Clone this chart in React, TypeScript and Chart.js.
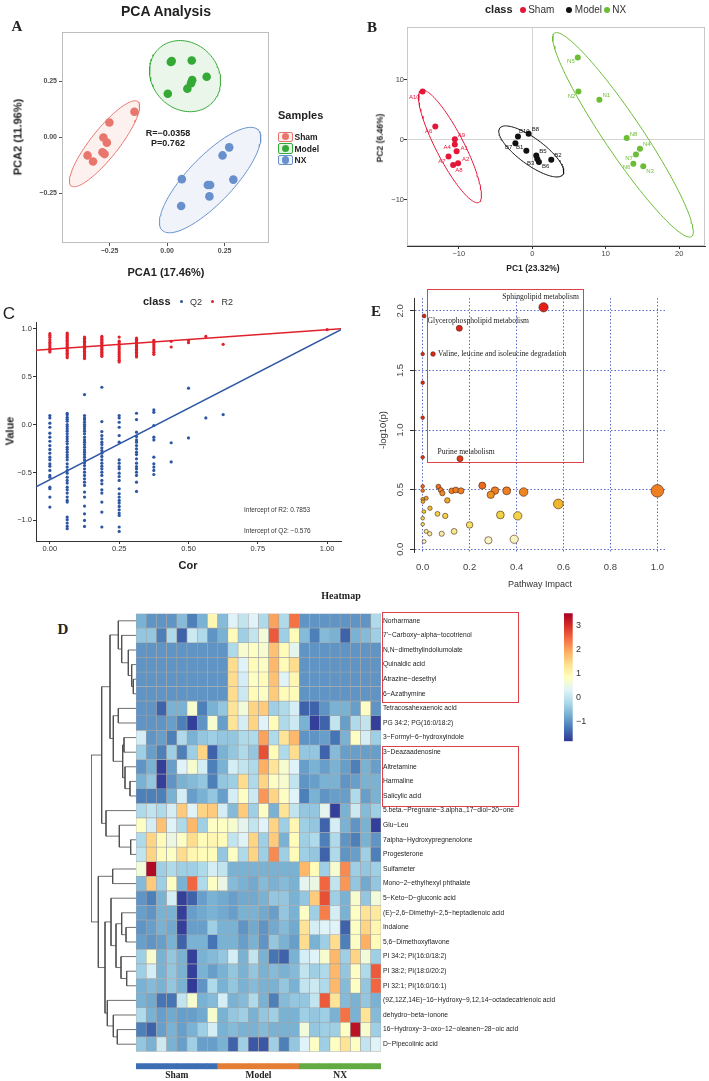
import React, { useEffect, useRef } from "react";
import { Chart, registerables } from "chart.js";

Chart.register(...registerables);

const SANS = "'Liberation Sans', Arial, Helvetica, sans-serif";
const SERIF = "'Liberation Serif', 'Times New Roman', Times, serif";
const NARROW = "'Liberation Sans Narrow', 'Arial Narrow', 'Liberation Sans', Arial, sans-serif";

Chart.defaults.font.family = SANS;
Chart.defaults.color = "#333";

/* ---------------- Panel A : PCA Analysis ---------------- */
const aClassNames = ["Sham", "Model", "NX"];
const aColors = ["#E8766D", "#34A935", "#6890CC"];
const aSham = [[-0.142, 0.113], [-0.251, 0.065], [-0.277, -0.002], [-0.262, -0.025], [-0.346, -0.082], [-0.322, -0.109], [-0.281, -0.068], [-0.272, -0.076]];
const aModel = [[0.016, 0.335], [0.02, 0.339], [0.107, 0.342], [0.172, 0.269], [0.109, 0.254], [0.104, 0.24], [0.088, 0.216], [0.003, 0.193]];
const aNX = [[0.27, -0.046], [0.241, -0.082], [0.064, -0.188], [0.177, -0.214], [0.187, -0.214], [0.288, -0.19], [0.184, -0.265], [0.061, -0.308]];
const aTicks = [-0.25, 0, 0.25];
const aStatsText = ["R=\u22120.0358", "P=0.762"];
// ellipse: centre x, centre y, semi-axis 1 (dx, dy), semi-axis 2 (dx, dy)
const aEllipses = [
  [-0.272, -0.03, 0.145, 0.188, 0.0478, -0.0388],
  [0.078, 0.272, 0.117, -0.12, 0.101, 0.104],
  [0.187, -0.192, 0.208, 0.2246, 0.0726, -0.0705],
];

/* ---------------- Panel B : PCA with sample ids ---------------- */
const bColors = ["#E3173A", "#111111", "#6BBD35"];
const bSham = [[-14.93, 8.06], [-13.2, 2.2], [-10.54, 0.1], [-10.54, -0.8], [-10.3, -1.9], [-11.4, -2.8], [-10.1, -3.9], [-10.77, -4.2]];
const bShamIds = ["A10", "A6", "A9", "A4", "A1", "A7", "A2", "A8"];
const bModel = [[-1.95, 0.56], [-0.5, 1.0], [-2.3, -0.56], [-0.81, -1.83], [0.54, -2.6], [0.68, -3.2], [0.9, -3.7], [2.58, -3.33]];
const bModelIds = ["B10", "B8", "B7", "B1", "B5", "B3", "B6", "B2"];
const bNX = [[6.19, 13.7], [6.28, 8.06], [9.13, 6.67], [12.84, 0.28], [14.65, -1.5], [14.1, -2.44], [13.75, -4.0], [15.1, -4.4]];
const bNXIds = ["N5", "N2", "N1", "N8", "N4", "N7", "N6", "N3"];
const bXTicks = [-10, 0, 10, 20];
const bYTicks = [-10, 0, 10];
const bEllipses = [
  [-11.2, -1.1, 3.93, -9.33, 1.69, 1.07],
  [-0.14, -1.94, 4.3, -3.88, -1.05, -1.75],
  [12.34, 0.83, 9.32, -16.95, 2.14, 1.77],
];
// label placement (pixel offsets) kept apart from the data
const bShamLabelPos = [[-3, 6, "right"], [-3, 5, "right"], [3, -4, "left"], [-4, 3, "right"], [4, -3, "left"], [-3, 5, "right"], [4, -4, "left"], [2, 5, "left"]];
const bModelLabelPos = [[1, -5, "left"], [3, -4, "left"], [-3, 4, "right"], [-3, -3, "right"], [3, -4, "left"], [-3, 4, "right"], [3, 4, "left"], [3, -4, "left"]];
const bNXLabelPos = [[-3, 4, "right"], [-3, 5, "right"], [3, -4, "left"], [3, -4, "left"], [3, -4, "left"], [-3, 4, "right"], [-3, 4, "right"], [3, 5, "left"]];

/* ---------------- Panel C : permutation test ---------------- */
const cCor = [0, 0.0625, 0.125, 0.1875, 0.25, 0.3125, 0.375, 0.4375, 0.5, 0.5625, 0.625, 1.0];
const cQ2 = [
  [0.094, 0.069, 0.014, -0.028, -0.09, -0.132, -0.174, -0.219, -0.26, -0.299, -0.34, -0.368, -0.41, -0.434, -0.479, -0.531, -0.549, -0.653, -0.67, -0.757, -0.861],
  [0.118, 0.101, 0.076, 0.056, 0.035, 0, -0.021, -0.045, -0.069, -0.097, -0.125, -0.149, -0.174, -0.201, -0.236, -0.26, -0.288, -0.316, -0.34, -0.368, -0.41, -0.444, -0.479, -0.507, -0.549, -0.583, -0.611, -0.653, -0.681, -0.715, -0.757, -0.792, -0.809, -0.965, -0.993, -1.028, -1.063, -1.087],
  [0.313, 0.094, 0.069, 0.049, 0.024, 0, -0.021, -0.045, -0.069, -0.097, -0.132, -0.16, -0.184, -0.208, -0.236, -0.264, -0.288, -0.313, -0.34, -0.368, -0.399, -0.427, -0.462, -0.497, -0.531, -0.566, -0.601, -0.635, -0.705, -0.757, -0.851, -0.931, -1.0, -1.063],
  [0.389, 0.031, -0.073, -0.115, -0.149, -0.184, -0.208, -0.243, -0.271, -0.299, -0.333, -0.368, -0.403, -0.434, -0.462, -0.497, -0.531, -0.583, -0.618, -0.681, -0.715, -0.809, -0.913, -1.069],
  [0.094, 0.069, 0.024, -0.028, -0.115, -0.184, -0.368, -0.403, -0.438, -0.462, -0.507, -0.542, -0.583, -0.67, -0.722, -0.757, -0.792, -0.819, -0.854, -0.889, -0.924, -0.948, -1.069, -1.115],
  [0.118, 0.052, -0.08, -0.125, -0.16, -0.184, -0.219, -0.253, -0.288, -0.313, -0.358, -0.403, -0.438, -0.462, -0.497, -0.531, -0.601, -0.698],
  [0.153, 0.128, -0.01, -0.132, -0.16, -0.34, -0.41, -0.444, -0.479, -0.521],
  [-0.19, -0.39],
  [0.38, -0.14],
  [0.069],
  [0.104],
  [],
];
const cR2 = [
  [0.948, 0.93, 0.91, 0.885, 0.86, 0.84, 0.82, 0.8, 0.785, 0.77, 0.757],
  [0.955, 0.94, 0.925, 0.91, 0.895, 0.88, 0.865, 0.85, 0.835, 0.82, 0.805, 0.79, 0.775, 0.76, 0.745, 0.73, 0.715, 0.698],
  [0.913, 0.9, 0.885, 0.87, 0.855, 0.84, 0.825, 0.81, 0.795, 0.78, 0.765, 0.75, 0.735, 0.72, 0.705, 0.688],
  [0.92, 0.905, 0.89, 0.875, 0.86, 0.845, 0.83, 0.815, 0.8, 0.785, 0.77, 0.755, 0.74, 0.725, 0.712],
  [0.913, 0.87, 0.85, 0.83, 0.81, 0.79, 0.77, 0.75, 0.73, 0.71, 0.69, 0.67, 0.653],
  [0.903, 0.89, 0.875, 0.86, 0.845, 0.83, 0.815, 0.8, 0.785, 0.77, 0.755, 0.74, 0.72, 0.705],
  [0.878, 0.86, 0.84, 0.82, 0.8, 0.78, 0.755, 0.733],
  [0.868, 0.809],
  [0.878, 0.854],
  [0.92],
  [0.837],
  [0.99],
];
const cR2Line = [[-0.05, 0.775], [1.05, 1.0]];
const cQ2Line = [[-0.05, -0.65], [1.05, 0.99]];
const cXTicks = [0, 0.25, 0.5, 0.75, 1.0];
const cYTicks = [-1.0, -0.5, 0, 0.5, 1.0];
const cColors = { Q2: "#2D56A3", R2: "#E0202A" };
const cInterceptText = ["Intercept of R2: 0.7853", "Intercept of Q2: \u22120.576"];

/* ---------------- Panel E : pathway analysis ---------------- */
// [pathway impact, -log10(p)]
const ePoints = [
  [0.515, 2.03], [0.006, 1.957], [0.156, 1.854], [0, 1.638], [0.044, 1.638], [0, 1.398], [0, 1.104], [0, 0.772],
  [0.159, 0.76], [0, 0.528], [0, 0.492], [0.067, 0.525], [0.077, 0.497], [0.084, 0.47], [0.124, 0.49], [0.141, 0.497],
  [0.163, 0.49], [0.254, 0.534], [0.308, 0.492], [0.29, 0.457], [0.358, 0.49], [0.43, 0.48], [1.0, 0.49], [0.578, 0.38],
  [0.015, 0.428], [0, 0.42], [0.001, 0.4], [0.105, 0.41], [0.031, 0.344], [0.005, 0.316], [0.063, 0.297], [0.096, 0.28],
  [0.331, 0.288], [0.405, 0.28], [0, 0.26], [0, 0.21], [0.2, 0.204], [0.015, 0.15], [0.03, 0.13], [0.081, 0.13],
  [0.134, 0.15], [0.28, 0.075], [0.39, 0.084], [0.006, 0.065],
];
const eLabelIndex = [0, 2, 4, 8];
const eLabelText = ["Sphingolipid metabolism", "Glycerophospholipid metabolism", "Valine, leucine and isoleucine degradation", "Purine metabolism"];
const eLabelPos = [[-3, -10, "center"], [19, -7, "center"], [5, 0, "left"], [6, -7, "center"]];
const eXTicks = [0, 0.2, 0.4, 0.6, 0.8, 1.0];
const eYTicks = [0, 0.5, 1.0, 1.5, 2.0];
const eColorStops: [number, string][] = [[0, "#FFFFF2"], [0.1, "#F7F0B8"], [0.2, "#F4E36A"], [0.3, "#F2D040"], [0.38, "#F0B52C"], [0.45, "#EF9525"], [0.5, "#EE7A22"], [0.55, "#E8601D"], [0.8, "#E23318"], [2.1, "#E21E18"]];

/* ---------------- Panel D : heatmap ---------------- */
const heatRowNames = [
  "Norharmane", "7'\u2212Carboxy\u2212alpha\u2212tocotrienol", "N,N\u2212dimethylindoliumolate", "Quinaldic acid", "Atrazine\u2212desethyl",
  "6\u2212Azathymine", "Tetracosahexaenoic acid", "PG 34:2; PG(16:0/18:2)", "3\u2212Formyl\u22126\u2212hydroxyindole", "3\u2212Deazaadenosine",
  "Altretamine", "Harmaline", "Salicylic acid", "5.beta.\u2212Pregnane\u22123.alpha.,17\u2212diol\u221220\u2212one", "Glu\u2212Leu",
  "7alpha\u2212Hydroxypregnenolone", "Progesterone", "Sulfameter", "Mono\u22122\u2212ethylhexyl phthalate", "5\u2212Keto\u2212D\u2212gluconic acid",
  "(E)\u22122,6\u2212Dimethyl\u22122,5\u2212heptadienoic acid", "Indalone", "5,6\u2212Dimethoxyflavone", "PI 34:2; PI(16:0/18:2)", "PI 38:2; PI(18:0/20:2)",
  "PI 32:1; PI(16:0/16:1)", "(9Z,12Z,14E)\u221216\u2212Hydroxy\u22129,12,14\u2212octadecatrienoic acid", "dehydro\u2212beta\u2212ionone", "16\u2212Hydroxy\u22123\u2212oxo\u221212\u2212oleanen\u221228\u2212oic acid", "D\u2212Pipecolinic acid",
];
const sampleIds = ["S1", "S2", "S3", "S4", "S5", "S6", "S7", "S8", "M1", "M2", "M3", "M4", "M5", "M6", "M7", "M8", "N1", "N2", "N3", "N4", "N5", "N6", "N7", "N8"];
const groupNames = ["Sham", "Model", "NX"];
const groupSizes = [8, 8, 8];
const groupColors = ["#3C6EB4", "#E57E35", "#62AB43"];
const heatValues = [
  [-0.7, -1.0, -1.0, -1.0, -0.6, -1.2, -0.7, 1.0, -0.6, 0.3, 0.0, 0.3, -0.2, 2.0, -0.2, 2.4, -1.0, -1.0, -1.0, -1.0, -1.0, -1.0, -1.0, -0.2],
  [-0.45, -0.45, -1.2, -0.2, -1.45, 0.1, -0.2, -1.0, -0.7, 0.9, -0.35, 0.0, 0.6, 2.6, -0.35, 0.9, -0.6, -1.2, -0.6, -0.7, -1.45, -0.7, -0.6, -0.35],
  [-1.0, -1.0, -1.0, -1.0, -1.0, -1.0, -1.0, -1.0, -1.0, -0.2, 0.7, 0.8, 0.7, 1.7, 0.9, 0.4, -1.0, -1.0, -1.0, -1.0, -1.0, -1.0, -1.0, -1.0],
  [-1.0, -1.0, -1.0, -1.0, -1.0, -1.0, -1.0, -1.0, -1.0, 1.4, 0.3, 0.9, 0.8, 1.8, 0.9, 1.4, -1.0, -1.0, -1.0, -1.0, -1.0, -1.0, -1.0, -1.0],
  [-1.0, -1.0, -1.0, -1.0, -1.0, -1.0, -1.0, -1.0, -1.0, 1.4, 0.2, 0.8, 0.9, 1.7, 0.3, 1.0, -1.0, -1.0, -1.0, -1.0, -1.0, -1.0, -1.0, -1.0],
  [-1.0, -1.0, -1.0, -1.0, -1.0, -1.0, -1.0, -1.0, -1.0, 1.4, 0.1, 0.9, 0.8, 1.6, 0.9, 0.9, -1.0, -1.0, -1.0, -1.0, -1.0, -1.0, -1.0, -1.0],
  [-1.0, -1.0, -1.45, -0.7, -0.7, 0.7, -1.2, -0.7, -0.45, 1.3, 0.6, 1.5, 1.6, -0.35, -0.2, 0.2, -1.45, -1.45, -1.0, -0.7, -0.7, -0.9, 0.8, -1.0],
  [-1.0, -1.0, -1.0, -0.9, -1.2, -1.75, -1.0, 0.7, -0.9, 1.3, 0.2, 1.5, 0.3, 0.9, -0.2, 0.1, -0.7, -1.75, -1.45, 0.0, -0.9, -0.2, 0.0, -1.75],
  [0.2, -1.0, -0.9, -1.2, -0.2, -0.7, -0.45, -0.35, -0.45, -0.45, -0.2, -0.2, 2.0, -0.2, 1.3, 1.8, -1.0, -1.0, -0.9, -1.3, -0.7, 0.8, 0.2, -0.35],
  [-0.35, -0.9, -1.2, -0.35, -1.2, -0.35, 1.5, -1.45, -0.7, -0.45, -0.2, -0.45, 2.7, 0.9, -0.2, 1.4, -0.45, -0.45, -1.45, -0.6, -0.9, -0.9, -0.9, -0.9],
  [-1.0, -0.7, -1.75, -0.9, 0.3, 0.7, 0.2, -1.2, -0.7, 0.2, 0.0, -0.2, 1.9, 1.3, 0.7, 0.3, -0.9, -0.7, -0.9, -0.7, -0.9, -1.2, -0.7, -0.9],
  [-0.7, -0.45, -1.75, -1.0, -0.7, -0.6, -0.45, -1.2, -0.45, -0.35, 1.4, -0.2, 1.5, 0.8, 0.7, 0.0, -1.0, -0.9, -0.7, -0.7, -1.0, -0.9, -0.7, -0.7],
  [-1.2, -1.2, -1.2, -0.7, 0.2, -0.9, -0.7, -0.45, -0.9, 0.2, 0.8, 0.1, 2.1, 1.5, 0.8, 0.3, -1.2, -0.7, -1.0, -0.9, -0.9, -0.2, -0.9, -0.7],
  [-0.2, 0.0, -0.2, 0.2, 1.6, 0.3, 1.5, 1.6, 0.2, -0.6, 1.6, -0.35, 0.8, -0.7, 1.3, 0.0, -0.45, -0.45, 0.4, -1.75, -0.7, 0.1, -0.6, -0.35],
  [0.8, 0.2, 1.7, 0.3, -0.2, 1.8, -0.35, 0.8, 0.8, 0.7, 0.4, 0.0, 0.3, 1.5, -0.35, 1.0, -0.35, -0.45, -1.45, 0.2, -0.7, -1.0, -0.7, -1.75],
  [-0.2, 1.5, 0.9, 0.5, 0.8, 1.4, 0.9, 1.0, 0.9, 0.0, 0.3, 1.5, -0.35, 1.6, -0.7, 0.9, -0.35, -0.2, -1.2, -0.2, -1.0, -1.2, -0.7, -1.0],
  [0.0, 1.5, 0.9, 0.8, 1.4, 1.0, 0.9, 0.9, -0.45, 0.8, -0.2, 1.5, -0.35, 2.2, -0.35, 0.9, -0.35, -0.45, -1.45, -0.2, -1.0, -0.9, -0.35, -1.2],
  [0.6, 3.4, -0.35, -0.2, -0.35, -0.35, -0.2, 0.2, 0.0, -0.7, -0.7, -0.7, -0.7, -0.7, -0.7, -0.7, 1.8, 0.9, -0.35, 0.7, 2.2, -0.35, -0.45, -0.35],
  [-0.6, 1.6, -0.35, 0.8, -0.7, 2.5, -0.2, 0.8, 0.5, -0.6, -0.7, -0.8, -0.6, -0.7, -0.6, -0.7, 0.4, 0.5, 2.5, 0.0, 2.1, -0.45, -0.8, -0.45],
  [-1.0, -1.2, -0.7, 0.2, -1.75, -1.45, -0.9, -0.7, -0.8, -0.9, -0.8, -0.8, -0.7, -0.45, -0.45, -0.7, -0.45, 1.6, 2.7, -0.35, -0.7, 0.7, -0.45, 0.6],
  [-0.9, -1.0, -0.7, -0.7, -1.75, -0.9, -0.8, -0.7, -0.8, -0.9, -0.7, -0.7, -0.8, -0.9, -0.45, -0.7, 0.8, -0.35, 2.3, 0.2, -0.7, 0.8, 1.3, 1.2],
  [-1.0, -0.9, -0.7, -0.8, -1.75, -0.9, -0.9, -0.35, -0.7, -0.7, -1.0, -0.8, -1.0, -0.8, -0.6, -0.8, 1.3, 0.2, 0.3, 0.3, -1.45, 0.8, 1.5, 1.0],
  [-0.9, -1.0, -0.9, -0.7, -1.45, -0.7, -0.7, -1.3, -0.7, -0.7, -0.9, -0.7, -1.0, -0.45, -0.7, -0.9, 1.4, -0.7, -0.35, 1.4, -1.2, 0.8, 1.9, 0.9],
  [-0.35, 0.7, -0.7, -0.45, -0.7, -1.75, -0.7, -0.6, -0.45, 0.2, -0.7, 0.0, -0.7, -1.3, -1.45, -0.7, 0.2, 0.3, 0.7, 1.8, -0.35, 1.5, 0.6, -0.35],
  [-0.35, 0.2, -0.7, -0.45, -0.7, -1.75, -0.7, -0.9, -0.7, -0.45, -0.7, -0.45, -0.7, -0.6, -0.7, -0.6, 0.0, -0.35, -0.2, 1.8, -0.45, 0.8, -0.2, 2.6],
  [-0.7, -0.6, -0.7, -0.45, -0.7, -1.8, -1.0, -0.2, -0.7, -0.45, -0.7, -0.6, -0.7, -0.7, -0.45, -0.7, 0.0, 0.1, -0.2, 1.8, -0.6, 0.8, -0.45, 2.5],
  [-0.7, -0.8, -1.3, -1.3, 0.0, 0.7, -0.7, -0.6, 0.2, -0.7, -0.6, -0.2, -0.7, -1.2, -0.6, -0.45, -0.45, 0.0, 2.6, 1.3, -0.6, -0.7, -0.45, -0.7],
  [-0.2, -0.7, -0.9, -0.8, -0.9, -0.9, -0.8, 0.7, -0.7, -0.45, -0.35, -0.7, -0.45, -0.35, -0.7, -0.7, -0.35, -0.45, -0.35, -0.7, 2.4, -0.7, 1.3, -0.6],
  [-1.2, -1.45, -0.9, -0.7, -0.9, -0.7, -0.35, 0.2, -0.7, -0.6, -0.7, -0.7, -0.6, -0.7, -0.7, -0.7, 0.6, -0.45, -0.35, -0.35, 0.8, 3.3, 0.7, -0.35],
  [-0.45, -0.7, 0.1, -0.7, -0.9, -0.35, -0.9, -0.9, -0.7, -1.45, -0.35, -1.55, -1.55, -0.35, -1.2, -0.45, 0.3, 0.8, -0.35, 0.8, 1.3, 0.8, 0.0, 0.3],
];
// row dendrogram, hclust style: negative = leaf (row -n-1), positive = earlier merge (1-based); third = height
const rowMerges = [
  [-5, -6, 2.7], [-4, 1, 4.3], [-3, 2, 7.7], [-2, 3, 14.3], [-1, 4, 17.7],
  [-7, -8, 17.7], [-9, -10, 12], [-12, -13, 6], [-11, 8, 11], [7, 9, 13.3], [6, 10, 22.7], [5, 11, 26],
  [-16, -17, 5.3], [-15, 13, 16.7], [-14, 14, 30], [12, 15, 34.3],
  [-18, -19, 23.3], [-22, -23, 10], [-21, 18, 14.3], [-25, -26, 9.3], [-24, 20, 15], [19, 21, 20], [-20, 22, 25],
  [-29, -30, 18.7], [-28, 24, 22.7], [-27, 25, 28.7], [23, 26, 31], [17, 27, 37.7], [16, 28, 45],
];
const heatPalette = ["#313695", "#4575B4", "#74ADD1", "#ABD9E9", "#E0F3F8", "#FFFFBF", "#FEE090", "#FDAE61", "#F46D43", "#D73027", "#A50026"];
const heatMin = -1.83;
const heatMax = 3.51;
const heatTicks = [-1, 0, 1, 2, 3];

/* ---------------- helpers ---------------- */
function fmt(v: number, d: number) {
  return (v < -1e-9 ? "\u2212" : "") + Math.abs(v).toFixed(d);
}
function hex(h: string) {
  return [parseInt(h.slice(1, 3), 16), parseInt(h.slice(3, 5), 16), parseInt(h.slice(5, 7), 16)];
}
function mix(a: string, b: string, t: number) {
  const A = hex(a), B = hex(b);
  const c = A.map((v, i) => Math.round(v + (B[i] - v) * t));
  return `rgb(${c[0]},${c[1]},${c[2]})`;
}
function rgba(h: string, a: number) {
  const c = hex(h);
  return `rgba(${c[0]},${c[1]},${c[2]},${a})`;
}
function heatColor(v: number) {
  const t = Math.max(0, Math.min(1, (v - heatMin) / (heatMax - heatMin))) * (heatPalette.length - 1);
  const i = Math.min(heatPalette.length - 2, Math.floor(t));
  return mix(heatPalette[i], heatPalette[i + 1], t - i);
}
function stopColor(stops: [number, string][], v: number) {
  if (v <= stops[0][0]) return stops[0][1];
  for (let i = 0; i < stops.length - 1; i++) {
    if (v <= stops[i + 1][0]) return mix(stops[i][1], stops[i + 1][1], (v - stops[i][0]) / (stops[i + 1][0] - stops[i][0]));
  }
  return stops[stops.length - 1][1];
}
function ellipsePts(p: number[]) {
  const [cx, cy, ux, uy, vx, vy] = p;
  const pts = [];
  const n = 120;
  for (let i = 0; i <= n; i++) {
    const t = (i / n) * Math.PI * 2;
    pts.push({ x: cx + Math.cos(t) * ux + Math.sin(t) * vx, y: cy + Math.cos(t) * uy + Math.sin(t) * vy });
  }
  return pts;
}
function dendroSegments() {
  const pos: { y: number; h: number }[] = [];
  const get = (c: number) => (c < 0 ? { y: -c - 1 + 0.5, h: 0 } : pos[c - 1]);
  const segs: { x: number; y: number }[][] = [];
  rowMerges.forEach(([a, b, h]) => {
    const A = get(a), B = get(b);
    segs.push([{ x: A.h, y: A.y }, { x: h, y: A.y }, { x: h, y: B.y }, { x: B.h, y: B.y }]);
    pos.push({ y: (A.y + B.y) / 2, h });
  });
  return segs;
}

function linAxis(o: any) {
  return {
    type: "linear",
    min: o.min,
    max: o.max,
    reverse: !!o.reverse,
    position: o.position,
    display: o.display !== false,
    afterFit: (s: any) => {
      if (o.size != null) {
        if (s.isHorizontal()) s.height = o.size;
        else s.width = o.size;
      }
    },
    afterBuildTicks: (s: any) => {
      s.ticks = (o.ticks || []).map((v: number) => ({ value: v }));
    },
    ticks: {
      display: o.showLabels !== false,
      autoSkip: false,
      maxRotation: 0,
      minRotation: 0,
      padding: o.pad == null ? 2 : o.pad,
      color: o.color || "#333",
      font: o.font || { size: 8 },
      callback: (v: number, i: number) => (o.labels ? o.labels[i] : fmt(v, o.dec || 0)),
    },
    grid: {
      display: o.grid !== false,
      drawOnChartArea: !!o.gridOn,
      drawTicks: (o.tickLen || 0) > 0,
      tickLength: o.tickLen || 0,
      tickColor: o.tickColor || "#333",
      tickWidth: 1,
      color: o.gridColor || "#333",
      lineWidth: o.gridWidth || 1,
    },
    border: { display: !!o.border, color: o.borderColor || "#333", width: 1, dash: o.dash || [] },
  };
}

function framePlugin(color: string) {
  return {
    id: "frame",
    afterDraw(chart: any) {
      const { ctx, chartArea: a } = chart;
      ctx.save();
      ctx.strokeStyle = color;
      ctx.lineWidth = 1;
      ctx.strokeRect(Math.round(a.left) + 0.5, Math.round(a.top) + 0.5, Math.round(a.right - a.left) - 1, Math.round(a.bottom - a.top) - 1);
      ctx.restore();
    },
  };
}
const ptLabelPlugin = {
  id: "ptLabels",
  afterDatasetsDraw(chart: any) {
    const { ctx } = chart;
    chart.data.datasets.forEach((ds: any, i: number) => {
      if (!ds.ptLabels) return;
      const meta = chart.getDatasetMeta(i);
      ctx.save();
      ctx.font = ds.ptLabelFont;
      ctx.fillStyle = ds.ptLabelColor;
      ctx.textBaseline = "middle";
      meta.data.forEach((el: any, j: number) => {
        const lab = ds.ptLabels[j];
        if (!lab) return;
        const [dx, dy, al] = ds.ptLabelPos[j];
        ctx.textAlign = al;
        ctx.fillText(lab, el.x + dx, el.y + dy);
      });
      ctx.restore();
    });
  },
};

const baseOpts = (padding: any) => ({
  responsive: false,
  animation: false,
  events: [],
  layout: { padding },
  plugins: { legend: { display: false }, tooltip: { enabled: false }, title: { display: false } },
});

/* ---------------- chart builders ---------------- */
function makeA() {
  const ds: any[] = [];
  aEllipses.forEach((p, i) =>
    ds.push({ type: "line", data: ellipsePts(p), borderColor: aColors[i], backgroundColor: rgba(aColors[i], 0.1), borderWidth: 1, pointRadius: 0, fill: "shape", showLine: true, tension: 0, order: 2 })
  );
  [aSham, aModel, aNX].forEach((arr, i) =>
    ds.push({ type: "scatter", data: arr.map(([x, y]) => ({ x, y })), backgroundColor: aColors[i], borderWidth: 0, pointRadius: 4.3, order: 1 })
  );
  const font = { size: 7, weight: "bold" };
  return {
    type: "scatter",
    data: { datasets: ds },
    options: {
      ...baseOpts({ top: 32, right: 6, left: 0, bottom: 0 }),
      scales: {
        x: linAxis({ min: -0.457, max: 0.443, ticks: aTicks, dec: 2, size: 47, tickLen: 3, pad: 1, font, color: "#4D4D4D", tickColor: "#555" }),
        y: linAxis({ min: -0.473, max: 0.469, ticks: aTicks, dec: 2, size: 62, tickLen: 3, pad: 2, font, color: "#4D4D4D", tickColor: "#555" }),
      },
    },
    plugins: [framePlugin("#BDBDBD")],
  };
}

function makeB() {
  const ds: any[] = [];
  bEllipses.forEach((p, i) =>
    ds.push({ type: "line", data: ellipsePts(p), borderColor: bColors[i], borderWidth: 1, pointRadius: 0, fill: false, showLine: true, tension: 0, order: 2 })
  );
  const sets = [bSham, bModel, bNX];
  const ids = [bShamIds, bModelIds, bNXIds];
  const lp = [bShamLabelPos, bModelLabelPos, bNXLabelPos];
  sets.forEach((arr, i) =>
    ds.push({
      type: "scatter",
      data: arr.map(([x, y]) => ({ x, y })),
      backgroundColor: bColors[i],
      borderWidth: 0,
      pointRadius: 3,
      order: 1,
      ptLabels: ids[i],
      ptLabelPos: lp[i],
      ptLabelFont: `6px ${SANS}`,
      ptLabelColor: bColors[i],
    })
  );
  const font = { size: 7.5 };
  const zeroLine = (ctx: any) => (ctx.tick && ctx.tick.value === 0 ? "#D4D4D4" : "rgba(0,0,0,0)");
  return {
    type: "scatter",
    data: { datasets: ds },
    options: {
      ...baseOpts({ top: 27, right: 3, left: 0, bottom: 0 }),
      scales: {
        x: linAxis({ min: -17.05, max: 23.5, ticks: bXTicks, dec: 0, size: 44, tickLen: 3, pad: 0, font, color: "#444", gridOn: true, gridColor: zeroLine, border: true, borderColor: "#333" }),
        y: linAxis({ min: -17.7, max: 18.8, ticks: bYTicks, dec: 0, size: 52, tickLen: 3, pad: 0, font, color: "#444", gridOn: true, gridColor: zeroLine, border: true, borderColor: "#333" }),
      },
    },
    plugins: [framePlugin("#C8C8C8"), ptLabelPlugin],
  };
}

function makeC() {
  const flat = (cols: number[][]) => {
    const out: { x: number; y: number }[] = [];
    cols.forEach((vals, i) => vals.forEach((v) => out.push({ x: cCor[i], y: v })));
    return out;
  };
  const font = { size: 7.5, family: NARROW };
  return {
    type: "scatter",
    data: {
      datasets: [
        { type: "scatter", data: flat(cQ2), backgroundColor: cColors.Q2, borderWidth: 0, pointRadius: 1.6, order: 2 },
        { type: "scatter", data: flat(cR2), backgroundColor: cColors.R2, borderWidth: 0, pointRadius: 1.6, order: 2 },
        { type: "line", data: cQ2Line.map(([x, y]) => ({ x, y })), borderColor: cColors.Q2, borderWidth: 1.6, pointRadius: 0, fill: false, order: 1 },
        { type: "line", data: cR2Line.map(([x, y]) => ({ x, y })), borderColor: cColors.R2, borderWidth: 1.6, pointRadius: 0, fill: false, order: 1 },
      ],
    },
    options: {
      ...baseOpts({ top: 32, right: 14, left: 0, bottom: 0 }),
      scales: {
        x: linAxis({ min: -0.05, max: 1.05, ticks: cXTicks, dec: 2, size: 49, tickLen: 3, pad: 0, font, color: "#333", border: true, borderColor: "#333" }),
        y: linAxis({ min: -1.215, max: 1.07, ticks: cYTicks, dec: 1, size: 36, tickLen: 3, pad: 1, font, color: "#333", border: true, borderColor: "#333" }),
      },
    },
  };
}

function makeE() {
  const labels = ePoints.map(() => "");
  const pos = ePoints.map(() => [0, 0, "left"]);
  eLabelIndex.forEach((idx, k) => {
    labels[idx] = eLabelText[k];
    pos[idx] = eLabelPos[k];
  });
  const rotTicks = {
    id: "rotTicks",
    afterDraw(chart: any) {
      const { ctx } = chart;
      const ys = chart.scales.y;
      ctx.save();
      ctx.font = `9.5px ${SANS}`;
      ctx.fillStyle = "#444";
      ctx.textAlign = "center";
      ctx.textBaseline = "middle";
      eYTicks.forEach((v) => {
        ctx.save();
        ctx.translate(45, ys.getPixelForValue(v));
        ctx.rotate(-Math.PI / 2);
        ctx.fillText(v.toFixed(1), 0, 0);
        ctx.restore();
      });
      ctx.restore();
    },
  };
  const dots = "#4A5CC0";
  return {
    type: "scatter",
    data: {
      datasets: [
        {
          data: ePoints.map(([x, y]) => ({ x, y })),
          backgroundColor: ePoints.map(([, y]) => stopColor(eColorStops, y)),
          borderColor: "rgba(70,35,20,0.85)",
          borderWidth: 0.7,
          pointRadius: ePoints.map(([x]) => 1.8 + 4.5 * Math.pow(x, 0.7)),
          ptLabels: labels,
          ptLabelPos: pos,
          ptLabelFont: `7.6px ${SERIF}`,
          ptLabelColor: "#222",
        },
      ],
    },
    options: {
      ...baseOpts({ top: 13, right: 42, left: 0, bottom: 0 }),
      scales: {
        x: linAxis({ min: -0.037, max: 1.041, ticks: eXTicks, dec: 1, size: 38, tickLen: 0, pad: 10, font: { size: 9.5 }, color: "#444", gridOn: true, gridColor: dots, gridWidth: 0.9, dash: [1.5, 2] }),
        y: linAxis({ min: -0.023, max: 2.108, ticks: eYTicks, dec: 1, size: 59, tickLen: 4, showLabels: false, gridOn: true, gridColor: dots, gridWidth: 0.9, dash: [1.5, 2], border: true, borderColor: "#333", tickColor: "#333" }),
      },
    },
    plugins: [ptLabelPlugin, rotTicks],
  };
}

const heatYMax = 31.22;
const annotBand = [30.82, 31.22];

function makeHeat() {
  const ds: any[] = heatValues.map((row, r) => ({
    data: row.map(() => [r, r + 1]),
    backgroundColor: row.map((v) => heatColor(v)),
    borderColor: "#A3A3A3",
    borderWidth: 0.6,
    borderSkipped: false,
    barPercentage: 1,
    categoryPercentage: 1,
    grouped: false,
  }));
  const annotColors: string[] = [];
  groupSizes.forEach((n, g) => {
    for (let k = 0; k < n; k++) annotColors.push(groupColors[g]);
  });
  ds.push({
    data: sampleIds.map(() => annotBand),
    backgroundColor: annotColors,
    borderWidth: 0,
    barPercentage: 1,
    categoryPercentage: 1,
    grouped: false,
  });
  return {
    type: "bar",
    data: { labels: sampleIds, datasets: ds },
    options: {
      ...baseOpts({ top: 13.5, right: 0, left: 6, bottom: 10.7 }),
      scales: {
        x: { type: "category", display: false },
        y: {
          ...linAxis({
            min: 0,
            max: heatYMax,
            reverse: true,
            position: "right",
            ticks: heatRowNames.map((_, i) => i + 0.5),
            labels: heatRowNames,
            size: 199,
            tickLen: 0,
            pad: 2,
            font: { size: 6.7 },
            color: "#222",
            grid: false,
          }),
        },
      },
    },
  };
}

function makeDendro() {
  const segs = dendroSegments();
  return {
    type: "scatter",
    data: {
      datasets: segs.map((s) => ({ type: "line", data: s, borderColor: "#4A4A4A", borderWidth: 0.8, pointRadius: 0, fill: false, tension: 0 })),
    },
    options: {
      ...baseOpts({ top: 13.5, right: 2, left: 5, bottom: 10.7 }),
      scales: {
        x: { type: "linear", min: 0, max: 45, reverse: true, display: false },
        y: { type: "linear", min: 0, max: heatYMax, reverse: true, display: false },
      },
    },
  };
}

function makeColorbar() {
  return {
    type: "bar",
    data: {
      labels: ["scale"],
      datasets: [
        {
          data: [[heatMin, heatMax]],
          backgroundColor: (ctx: any) => {
            const chart = ctx.chart;
            if (!chart.chartArea) return "#ccc";
            const ys = chart.scales.y;
            const g = chart.ctx.createLinearGradient(0, ys.getPixelForValue(heatMin), 0, ys.getPixelForValue(heatMax));
            heatPalette.forEach((c, i) => g.addColorStop(i / (heatPalette.length - 1), c));
            return g;
          },
          borderWidth: 0,
          barPercentage: 1,
          categoryPercentage: 1,
        },
      ],
    },
    options: {
      ...baseOpts({ top: 13.3, right: 0, left: 9, bottom: 7.7 }),
      scales: {
        x: { type: "category", display: false },
        y: linAxis({ min: heatMin, max: heatMax, position: "right", ticks: heatTicks, dec: 0, size: 42.3, tickLen: 0, pad: 3.3, font: { size: 9 }, color: "#333", grid: false }),
      },
    },
  };
}

/* ---------------- React components ---------------- */
function ChartCanvas({ left, top, width, height, make }: { left: number; top: number; width: number; height: number; make: () => any }) {
  const ref = useRef<HTMLCanvasElement>(null);
  useEffect(() => {
    const chart = new Chart(ref.current as HTMLCanvasElement, make());
    return () => chart.destroy();
  }, []);
  return <canvas ref={ref} width={width} height={height} style={{ position: "absolute", left, top, width, height }} />;
}

function T({ x, y, s, w = 400, f = SANS, c = "#222", a = "center", r = 0, children }: any) {
  const tx = a === "center" ? "-50%" : a === "right" ? "-100%" : "0%";
  return (
    <div
      style={{
        position: "absolute",
        left: x,
        top: y,
        transform: `translate(${tx}, -50%)${r ? ` rotate(${r}deg)` : ""}`,
        fontSize: s,
        fontWeight: w,
        fontFamily: f,
        color: c,
        whiteSpace: "nowrap",
        lineHeight: 1,
      }}
    >
      {children}
    </div>
  );
}

function Box({ x, y, w, h, c = "#E0404A", bw = 1.3 }: any) {
  return <div style={{ position: "absolute", left: x, top: y, width: w, height: h, border: `${bw}px solid ${c}`, boxSizing: "border-box" }} />;
}

function Dot({ x, y, d, c }: any) {
  return <div style={{ position: "absolute", left: x - d / 2, top: y - d / 2, width: d, height: d, borderRadius: "50%", background: c }} />;
}

export default function App() {
  const groupCenters: number[] = [];
  let acc = 0;
  const cellW = 245 / sampleIds.length;
  groupSizes.forEach((n) => {
    groupCenters.push(136 + (acc + n / 2) * cellW);
    acc += n;
  });
  return (
    <div style={{ position: "absolute", left: 0, top: 0, width: 709, height: 1081, background: "#fff", overflow: "hidden", fontFamily: SANS }}>
      {/* Panel A */}
      <ChartCanvas left={0} top={0} width={275} height={290} make={makeA} />
      <T x={166} y={11} s={14} w={700}>PCA Analysis</T>
      <T x={17} y={26} s={15} w={700} f={SERIF}>A</T>
      <T x={18} y={137} s={11} w={700} r={-90}>PCA2 (11.96%)</T>
      <T x={166} y={272} s={11} w={700}>PCA1 (17.46%)</T>
      <T x={168} y={133} s={9} w={700}>{aStatsText[0]}</T>
      <T x={168} y={142.5} s={9} w={700}>{aStatsText[1]}</T>
      <T x={278} y={115} s={11} w={700} a="left">Samples</T>
      {aClassNames.map((n, i) => (
        <React.Fragment key={n}>
          <div style={{ position: "absolute", left: 278, top: 131.5 + i * 11.7, width: 15, height: 10.5, border: `1px solid ${aColors[i]}`, background: rgba(aColors[i], 0.12), borderRadius: 2, boxSizing: "border-box" }} />
          <Dot x={285.5} y={136.7 + i * 11.7} d={7.5} c={aColors[i]} />
          <T x={294.5} y={137 + i * 11.7} s={8.5} w={700} a="left">{n}</T>
        </React.Fragment>
      ))}

      {/* Panel B */}
      <ChartCanvas left={355} top={0} width={354} height={290} make={makeB} />
      <T x={485} y={9} s={11} w={700} a="left">class</T>
      {aClassNames.map((n, i) => {
        const dx = [522.7, 569.3, 606.7][i];
        return (
          <React.Fragment key={n}>
            <Dot x={dx} y={9.5} d={6} c={bColors[i]} />
            <T x={dx + 5.5} y={9.5} s={10} a="left" c="#333">{n}</T>
          </React.Fragment>
        );
      })}
      <T x={372} y={27} s={15} w={700} f={SERIF}>B</T>
      <T x={533} y={268} s={8.5} w={700}>PC1 (23.32%)</T>
      <T x={380} y={138} s={8.5} w={700} r={-90}>PC2 (6.46%)</T>

      {/* Panel C */}
      <ChartCanvas left={0} top={290} width={355} height={300} make={makeC} />
      <T x={9} y={313} s={17}>C</T>
      <T x={143} y={301} s={11} w={700} a="left">class</T>
      <Dot x={181} y={301.5} d={3} c={cColors.Q2} />
      <T x={190} y={301.5} s={9} a="left" c="#333">Q2</T>
      <Dot x={212.7} y={301.5} d={3} c={cColors.R2} />
      <T x={221.5} y={301.5} s={9} a="left" c="#333">R2</T>
      <T x={10} y={431} s={11} w={700} r={-90}>Value</T>
      <T x={188} y={564.5} s={11} w={700}>Cor</T>
      <T x={244} y={510} s={6.5} f={NARROW} a="left" c="#333">{cInterceptText[0]}</T>
      <T x={244} y={531} s={6.5} f={NARROW} a="left" c="#333">{cInterceptText[1]}</T>

      {/* Panel E */}
      <ChartCanvas left={355} top={285} width={354} height={305} make={makeE} />
      <T x={376} y={311} s={15} w={700} f={SERIF}>E</T>
      <T x={383} y={430} s={9.5} r={-90} c="#333">-log10(p)</T>
      <T x={540} y={584} s={9} c="#333">Pathway Impact</T>
      <Box x={426.7} y={289.3} w={157} h={174} />

      {/* Panel D */}
      <ChartCanvas left={86} top={600} width={52} height={480} make={makeDendro} />
      <ChartCanvas left={130} top={600} width={450} height={480} make={makeHeat} />
      <ChartCanvas left={555} top={600} width={60} height={150} make={makeColorbar} />
      <T x={63} y={629} s={15} w={700} f={SERIF}>D</T>
      <T x={341} y={596} s={10} w={700} f={SERIF}>Heatmap</T>
      <Box x={381.5} y={611.7} w={137} h={91} />
      <Box x={381.5} y={745.5} w={137} h={61} />
      {groupNames.map((g, i) => (
        <T key={g} x={groupCenters[i]} y={1075.5} s={9.5} w={700} f={SERIF}>{g}</T>
      ))}
    </div>
  );
}
